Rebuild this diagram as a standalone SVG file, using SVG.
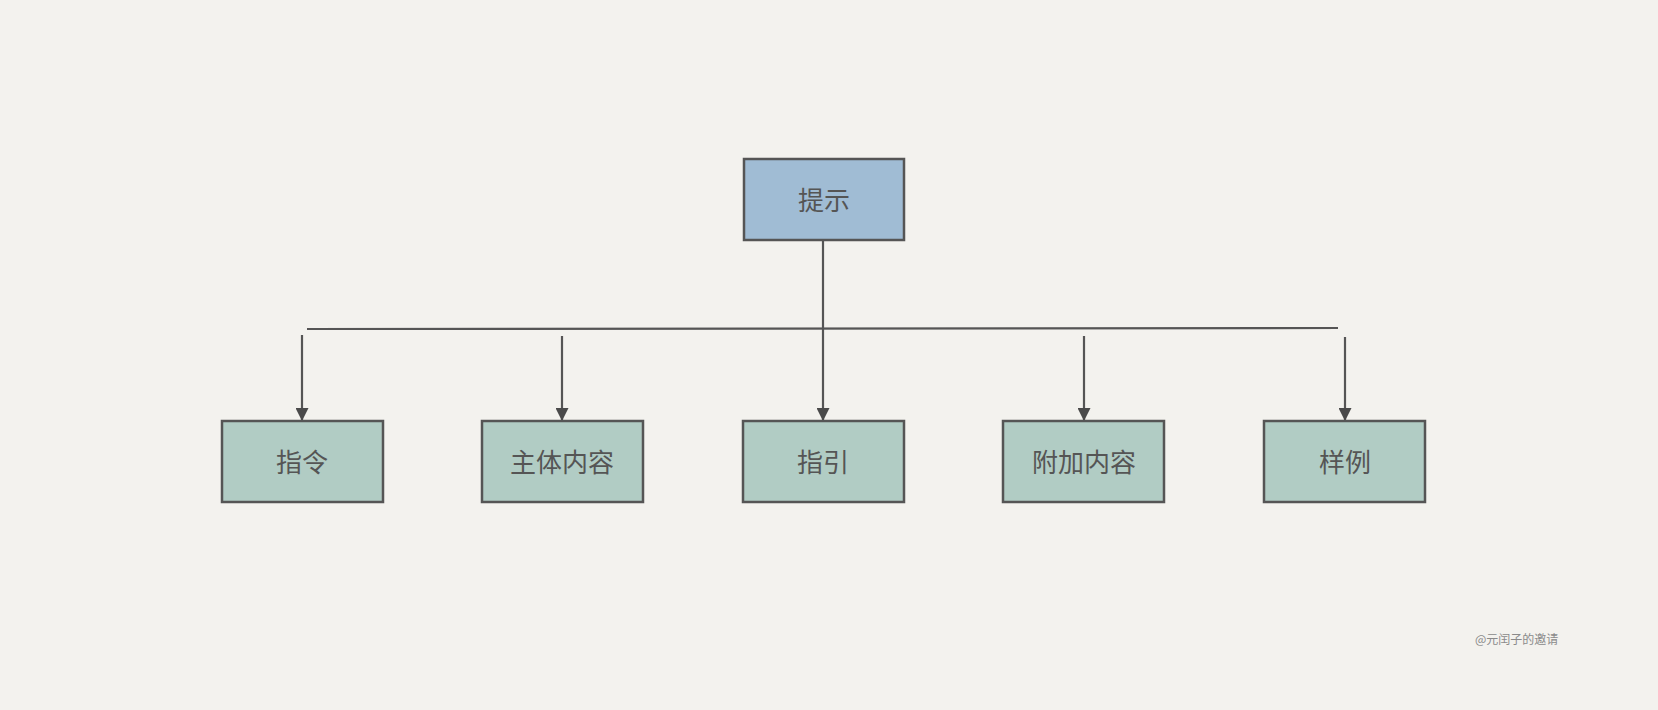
<svg xmlns="http://www.w3.org/2000/svg" width="1658" height="710" viewBox="0 0 1658 710">
<defs>
<style>
.node rect{stroke:#555;stroke-width:2.5}
.blue{fill:#a0bcd4}
.green{fill:#b1ccc4}
.node text{font-family:"Noto Sans CJK SC","Noto Sans",sans-serif;font-size:26px;fill:#555;text-anchor:middle;dominant-baseline:central}
.conn{stroke:#555;stroke-width:2.2;fill:none}
.wm{font-family:"Noto Sans CJK SC","Noto Sans",sans-serif;font-size:12px;fill:#8a8a8a}
</style>
<marker id="arr" viewBox="0 0 10 10" refX="10" refY="5" markerWidth="13" markerHeight="13" markerUnits="userSpaceOnUse" orient="auto">
<path d="M0,0 L10,5 L0,10 z" fill="#4a4a4a"/>
</marker>
</defs>
<rect width="1658" height="710" fill="#f3f2ee"/>
<g id="connectors">
<line class="conn" x1="307" y1="329" x2="1338" y2="328"/>
<line class="conn" x1="823" y1="240" x2="823" y2="421" marker-end="url(#arr)"/>
<line class="conn" x1="302" y1="335" x2="302" y2="421" marker-end="url(#arr)"/>
<line class="conn" x1="562" y1="336" x2="562" y2="421" marker-end="url(#arr)"/>
<line class="conn" x1="1084" y1="336" x2="1084" y2="421" marker-end="url(#arr)"/>
<line class="conn" x1="1345" y1="337" x2="1345" y2="421" marker-end="url(#arr)"/>
</g>
<g id="node-tishi" class="node"><rect class="blue" x="744" y="159" width="160" height="81"/><text x="824" y="198">提示</text></g>
<g id="node-zhiling" class="node"><rect class="green" x="222" y="421" width="161" height="81"/><text x="302" y="460">指令</text></g>
<g id="node-zhuti" class="node"><rect class="green" x="482" y="421" width="161" height="81"/><text x="562" y="460">主体内容</text></g>
<g id="node-zhiyin" class="node"><rect class="green" x="743" y="421" width="161" height="81"/><text x="823" y="460">指引</text></g>
<g id="node-fujia" class="node"><rect class="green" x="1003" y="421" width="161" height="81"/><text x="1084" y="460">附加内容</text></g>
<g id="node-yangli" class="node"><rect class="green" x="1264" y="421" width="161" height="81"/><text x="1345" y="460">样例</text></g>
<text class="wm" x="1475" y="644">@元闰子的邀请</text>
</svg>
